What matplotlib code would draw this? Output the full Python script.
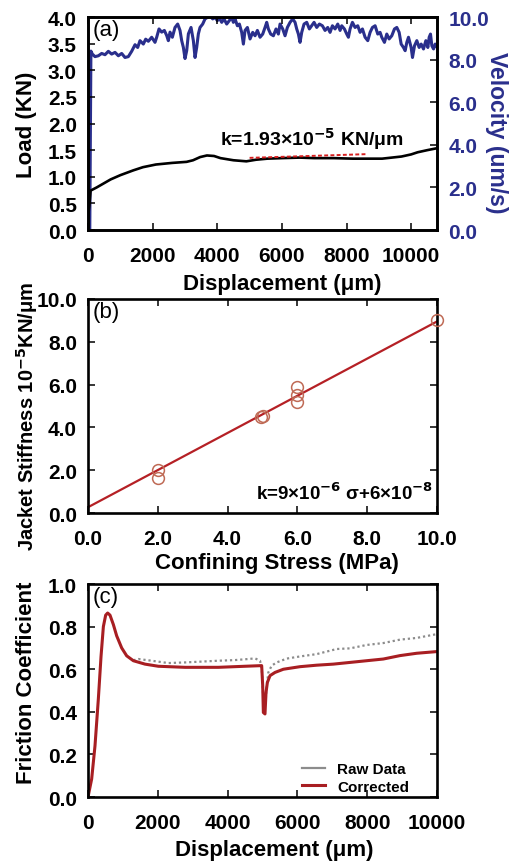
import matplotlib
matplotlib.use("Agg")
import matplotlib.pyplot as plt
from matplotlib.lines import Line2D

plt.rcParams['font.family'] = ['Liberation Sans', 'DejaVu Sans']
plt.rcParams['font.weight'] = 'bold'
plt.rcParams['mathtext.default'] = 'bf'

# ---------------------------------------------------------------- (a) load / velocity
load_disp = [0, 40, 80, 270, 700, 1000, 1400, 1700, 2100, 2600, 3050, 3250, 3470, 3680,
             3900, 4100, 4500, 4900, 5200, 5550, 6000, 6550, 7000, 7600, 8200, 8650,
             9100, 9400, 9700, 10000, 10200, 10500, 10750]
load_kn = [0.25, 0.45, 0.74, 0.80, 0.95, 1.03, 1.12, 1.18, 1.23, 1.26, 1.28, 1.31, 1.37, 1.40,
           1.39, 1.35, 1.31, 1.29, 1.32, 1.34, 1.35, 1.36, 1.35, 1.35, 1.34, 1.34,
           1.34, 1.36, 1.38, 1.42, 1.46, 1.50, 1.53]

vel_disp = [55, 90, 134, 217, 320, 423, 526, 629, 732, 836, 939, 1042, 1145, 1248, 1351,
            1455, 1537, 1609, 1712, 1785, 1867, 1970, 2073, 2125, 2197, 2280, 2362, 2435,
            2486, 2538, 2610, 2692, 2775, 2847, 2899, 2951, 3002, 3054, 3106, 3188, 3260,
            3312, 3363, 3415, 3466, 3549, 3621, 3693, 3776, 3858, 3931, 4003, 4065, 4137,
            4209, 4292, 4374, 4447, 4498, 4550, 4622, 4684, 4756, 4808, 4859, 4932, 5014,
            5097, 5169, 5241, 5323, 5406, 5478, 5530, 5581, 5653, 5736, 5818, 5891, 5942,
            6025, 6097, 6169, 6252, 6335, 6407, 6458, 6510, 6561, 6613, 6685, 6768, 6850,
            6922, 6995, 7077, 7160, 7253, 7335, 7418, 7490, 7563, 7645, 7728, 7800, 7851,
            7934, 8006, 8058, 8109, 8182, 8264, 8347, 8419, 8492, 8574, 8657, 8729, 8801,
            8884, 8966, 9038, 9090, 9173, 9245, 9318, 9400, 9483, 9555, 9628, 9690, 9762,
            9814, 9865, 9917, 9999, 10041, 10103, 10175, 10247, 10309, 10381, 10454, 10516,
            10557, 10598, 10640, 10692, 10743, 10800]
vel_ums = [0.0, 8.40, 8.26, 8.14, 8.18, 8.29, 8.23, 8.39, 8.26, 8.34, 8.18, 8.29, 8.10, 8.14, 8.39,
           8.70, 8.57, 8.89, 8.73, 8.96, 8.86, 9.05, 8.81, 9.05, 9.44, 9.29, 9.37, 9.13,
           8.89, 9.29, 9.05, 9.51, 9.67, 9.37, 8.89, 8.57, 8.05, 8.42, 9.21, 9.51, 8.89,
           8.10, 8.57, 9.21, 9.51, 9.67, 9.91, 9.98, 10.06, 9.91, 9.98, 9.83, 9.95, 9.75,
           9.91, 9.67, 9.83, 9.98, 9.75, 9.91, 9.59, 9.67, 9.28, 8.73, 9.37, 9.51, 8.97,
           9.28, 9.12, 9.37, 9.05, 9.20, 9.51, 9.75, 9.44, 9.20, 9.12, 9.44, 9.20, 9.67,
           9.44, 9.12, 9.51, 9.75, 9.91, 9.75, 9.44, 9.20, 8.81, 9.28, 9.67, 9.75, 9.44,
           9.59, 9.75, 9.51, 9.67, 9.59, 9.37, 9.51, 9.28, 9.59, 9.44, 9.67, 9.37, 9.59,
           9.44, 9.20, 9.05, 9.44, 9.75, 9.51, 9.59, 9.28, 9.44, 9.05, 8.89, 9.28, 9.51,
           9.59, 9.20, 9.28, 9.05, 8.81, 9.20, 8.97, 9.12, 9.44, 9.51, 9.28, 8.73, 8.57,
           8.42, 8.81, 9.05, 8.57, 8.10, 8.65, 8.89, 8.57, 8.73, 8.50, 8.89, 8.57,
           9.05, 9.20, 8.65, 8.50, 8.73, 8.60]

k_jacket = 1.93e-5          # KN/um
k_fit_disp = [5000, 8600]
k_fit_load0 = 1.355

# ---------------------------------------------------------------- (b) jacket stiffness
conf_stress = [2.0, 2.0, 4.95, 5.0, 6.0, 6.0, 6.0, 10.0]
stiffness = [2.0, 1.65, 4.5, 4.55, 5.9, 5.5, 5.2, 9.0]
fit_stress = [0.0, 10.0]
fit_stiffness = [0.27, 8.95]

# ---------------------------------------------------------------- (c) friction
corr_disp = [0, 105, 200, 296, 373, 440, 506, 563, 630, 726, 821, 965, 1108, 1299, 1633,
             2015, 2780, 3735, 4499, 4976, 5005, 5024, 5071, 5100, 5139, 5215, 5358, 5597,
             6074, 6552, 7029, 7507, 7984, 8462, 8939, 9417, 10000]
fric_corr = [0.0, 0.085, 0.24, 0.46, 0.66, 0.80, 0.854, 0.864, 0.854, 0.81, 0.757, 0.70, 0.663,
             0.64, 0.624, 0.614, 0.609, 0.609, 0.614, 0.617, 0.523, 0.397, 0.390, 0.49, 0.538,
             0.57, 0.585, 0.60, 0.612, 0.619, 0.624, 0.632, 0.64, 0.648, 0.664, 0.675, 0.683]
raw_disp = [1299, 1442, 1824, 2302, 2780, 3258, 3735, 4212, 4594, 4786, 4929, 4980, 5010,
            5040, 5080, 5120, 5167, 5263, 5406, 5693, 6074, 6552, 7125, 7507, 7984, 8462,
            8939, 9417, 10000]
fric_raw = [0.642, 0.648, 0.64, 0.629, 0.632, 0.636, 0.64, 0.643, 0.648, 0.651, 0.64, 0.60,
            0.50, 0.42, 0.43, 0.52, 0.585, 0.617, 0.632, 0.65, 0.66, 0.671, 0.695, 0.698,
            0.714, 0.723, 0.739, 0.747, 0.765]

blue = '#2a2f8c'
red = '#a81e22'
TICK = 15
LABEL = 16

fig = plt.figure(figsize=(5.09, 8.62), dpi=100)


def style(ax):
    for s in ax.spines.values():
        s.set_linewidth(1.9)
    ax.tick_params(direction='in', length=5, width=1.1, labelsize=TICK)
    ax.tick_params(axis='x', pad=11.5)
    ax.tick_params(axis='y', pad=8)
    for t in ax.get_xticklabels() + ax.get_yticklabels():
        t.set_fontweight('bold')


def ylab(ax, text, x, y, size=LABEL, **kw):
    ax.set_ylabel(text, fontsize=size, fontweight='bold', va='center', ha='center', **kw)
    ax.yaxis.set_label_coords(x, y)


def xlab(ax, text, x, y):
    ax.set_xlabel(text, fontsize=LABEL, fontweight='bold', va='center', ha='center')
    ax.xaxis.set_label_coords(x, y)


# ---------------------------------------------------------------- panel (a)
ax1 = fig.add_axes([0.1729, 0.7320, 0.6857, 0.2471])
ax2 = ax1.twinx()
ax2.plot(vel_disp, vel_ums, color=blue, lw=2.2)
ax1.plot(load_disp, load_kn, color='black', lw=1.9, zorder=3)
ax1.set_zorder(ax2.get_zorder() + 1)
ax1.patch.set_visible(False)
ax1.plot(k_fit_disp, [k_fit_load0, k_fit_load0 + k_jacket * (k_fit_disp[1] - k_fit_disp[0])],
         color='#d62020', lw=1.4, ls=(0, (2, 1.2)), zorder=4)
ax1.set_xlim(0, 10800)
ax1.set_ylim(0, 4.0)
ax2.set_ylim(0, 10.0)
ax1.set_xticks([0, 2000, 4000, 6000, 8000, 10000])
ax1.set_yticks([0, 0.5, 1.0, 1.5, 2.0, 2.5, 3.0, 3.5, 4.0])
ax1.set_yticklabels(['%.1f' % v for v in ax1.get_yticks()])
ax2.set_yticks([0, 2, 4, 6, 8, 10])
ax2.set_yticklabels(['%.1f' % v for v in ax2.get_yticks()])
style(ax1)
style(ax2)
ax1.tick_params(top=True, right=False)
ax2.tick_params(colors='black', labelcolor=blue)
ylab(ax1, 'Load (KN)', -0.175, 0.50)
ylab(ax2, 'Velocity (um/s)', 1.17, 0.46, size=16.5, color=blue, rotation=270)
xlab(ax1, 'Displacement (μm)', 0.556, -0.249)
ax1.text(0.012, 0.99, '(a)', transform=ax1.transAxes, fontsize=16, fontweight='normal',
         va='top', ha='left')
ax1.text(4080, 1.73, r'k=1.93×10$^{-5}$ KN/μm', fontsize=14, fontweight='bold', va='center')

# ---------------------------------------------------------------- panel (b)
axb = fig.add_axes([0.1729, 0.4037, 0.6857, 0.2483])
axb.plot(fit_stress, fit_stiffness, color='#b52025', lw=1.6, zorder=2)
axb.plot(conf_stress, stiffness, 'o', mfc='none', mec='#bf6a55', ms=8.5, mew=1.1,
         clip_on=False, zorder=3)
axb.set_xlim(0, 10)
axb.set_ylim(0, 10)
axb.set_xticks([0, 2, 4, 6, 8, 10])
axb.set_yticks([0, 2, 4, 6, 8, 10])
axb.set_xticklabels(['%.1f' % v for v in axb.get_xticks()])
axb.set_yticklabels(['%.1f' % v for v in axb.get_yticks()])
style(axb)
axb.tick_params(top=True, right=True)
xlab(axb, 'Confining Stress (MPa)', 0.54, -0.229)
ylab(axb, r'Jacket Stiffness 10$^{-5}$KN/μm', -0.175, 0.455, size=14.5)
axb.text(0.012, 0.99, '(b)', transform=axb.transAxes, fontsize=16, fontweight='normal',
         va='top', ha='left')
axb.text(4.8, 0.98, r'k=9×10$^{-6}$ σ+6×10$^{-8}$', fontsize=13.5, fontweight='bold',
         va='center')

# ---------------------------------------------------------------- panel (c)
axc = fig.add_axes([0.1729, 0.0742, 0.6857, 0.2471])
axc.plot(raw_disp, fric_raw, color='#8c8c8c', lw=1.6, ls=(0, (1, 1.3)))
axc.plot(corr_disp, fric_corr, color=red, lw=2.2)
axc.set_xlim(0, 10000)
axc.set_ylim(0, 1.0)
axc.set_xticks([0, 2000, 4000, 6000, 8000, 10000])
axc.set_yticks([0, 0.2, 0.4, 0.6, 0.8, 1.0])
axc.set_yticklabels(['%.1f' % v for v in axc.get_yticks()])
style(axc)
axc.tick_params(top=True, right=True)
xlab(axc, 'Displacement (μm)', 0.533, -0.244)
ylab(axc, 'Friction Coefficient', -0.175, 0.54)
axc.text(0.012, 0.99, '(c)', transform=axc.transAxes, fontsize=16, fontweight='normal',
         va='top', ha='left')
handles = [Line2D([], [], color='#8c8c8c', lw=1.6), Line2D([], [], color=red, lw=2.2)]
axc.legend(handles, ['Raw Data', 'Corrected'], loc='lower right', frameon=False,
           bbox_to_anchor=(0.96, -0.048), handlelength=1.5,
           handletextpad=0.8, labelspacing=0.2, prop={'weight': 'bold', 'size': 11})

fig.savefig('out.png', dpi=100)
